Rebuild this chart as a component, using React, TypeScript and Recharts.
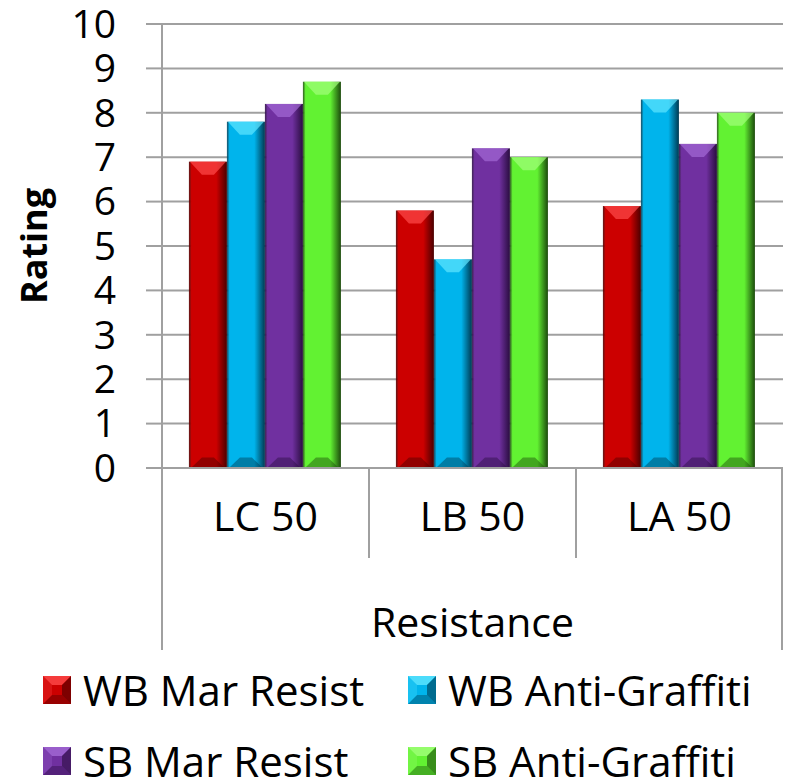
import { Bar, BarChart, CartesianGrid, XAxis, YAxis } from 'recharts';

const categories = ['LC 50', 'LB 50', 'LA 50'];
const wbMarResist = [6.9, 5.8, 5.9];
const wbAntiGraffiti = [7.8, 4.7, 8.3];
const sbMarResist = [8.2, 7.2, 7.3];
const sbAntiGraffiti = [8.7, 7.0, 8.0];
const yTicks = [0, 1, 2, 3, 4, 5, 6, 7, 8, 9, 10];

const series = [
  { key: 'wbMar', name: 'WB Mar Resist', base: '#cc0000', light: '#ff4a4a', dark: '#4a0000' },
  { key: 'wbAnti', name: 'WB Anti-Graffiti', base: '#00b4ec', light: '#5fe6ff', dark: '#003a52' },
  { key: 'sbMar', name: 'SB Mar Resist', base: '#7030a0', light: '#a46ad6', dark: '#2a0d40' },
  { key: 'sbAnti', name: 'SB Anti-Graffiti', base: '#62f232', light: '#a2ff7a', dark: '#1c4a0c' },
];

const data = categories.map((c, i) => ({
  cat: c, wbMar: wbMarResist[i], wbAnti: wbAntiGraffiti[i], sbMar: sbMarResist[i], sbAnti: sbAntiGraffiti[i],
}));

const FONT = '"Open Sans", sans-serif';

const bevelShape = (s: typeof series[number]) => (props: any) => {
  const { x, y, width: w, height: h } = props;
  if (!w || !h || h <= 0) return null;
  const b = Math.min(13, h / 2, w / 2);
  const mid = x + w / 2;
  return (
    <g>
      <rect x={x} y={y} width={w} height={h} fill={`url(#g-${s.key})`} />
      <polygon points={`${x + 1},${y} ${x + w - 1},${y} ${mid + 6},${y + b} ${mid - 6},${y + b}`} fill={s.light} opacity={0.7} />
      <polygon points={`${x + 2},${y + h} ${x + w - 2},${y + h} ${mid + 6},${y + h - b * 0.8} ${mid - 6},${y + h - b * 0.8}`} fill={s.dark} opacity={0.45} />
    </g>
  );
};

const LegendMark = ({ s }: { s: typeof series[number] }) => (
  <svg width={28} height={28} style={{ display: 'block' }}>
    <rect x={0} y={0} width={28} height={28} fill={s.base} />
    <polygon points="0,0 28,0 19,9 9,9" fill={s.light} opacity={0.8} />
    <polygon points="28,0 28,28 19,19 19,9" fill={s.dark} opacity={0.6} />
    <polygon points="0,28 28,28 19,19 9,19" fill={s.dark} opacity={0.4} />
    <polygon points="0,0 0,28 9,19 9,9" fill={s.light} opacity={0.25} />
  </svg>
);

const CatTick = (props: any) => {
  const { x, y, payload } = props;
  const half = Number(payload?.offset) || 103.5;
  const cx = Number(payload?.coordinate ?? x);
  const first = payload.value === categories[0];
  const last = payload.value === categories[categories.length - 1];
  return (
    <g>
      <line x1={cx - half} y1={y} x2={cx - half} y2={y + (first ? 182 : 90)} stroke="#a0a0a0" strokeWidth={2} />
      {last && <line x1={cx + half - 1} y1={y} x2={cx + half - 1} y2={y + 182} stroke="#a0a0a0" strokeWidth={2} />}
      <text x={cx} y={y + 63} textAnchor="middle" fontSize={41} fontFamily={FONT} fill="#000">{payload.value}</text>
      {payload.value === categories[1] && (
        <text x={cx} y={y + 169} textAnchor="middle" fontSize={41} fontFamily={FONT} fill="#000">Resistance</text>
      )}
    </g>
  );
};

export default function App() {
  return (
    <div style={{ position: 'relative', width: 776, height: 772 }}>
      <BarChart width={776} height={772} data={data} margin={{ top: 16, right: 1, left: 0, bottom: 130 }}
        barCategoryGap="13%" barGap={0}>
        <defs>
          {series.map(s => (
            <linearGradient key={s.key} id={`g-${s.key}`} x1="0" y1="0" x2="1" y2="0">
              <stop offset="0" stopColor={s.dark} stopOpacity={0.9} />
              <stop offset="0.07" stopColor={s.base} />
              <stop offset="0.72" stopColor={s.base} />
              <stop offset="1" stopColor={s.dark} />
            </linearGradient>
          ))}
        </defs>
        <CartesianGrid vertical={false} stroke="#a0a0a0" strokeWidth={2} />
        <XAxis dataKey="cat" height={182} axisLine={{ stroke: '#a0a0a0', strokeWidth: 2 }} tickLine={false}
          tickSize={0} tickMargin={0} tick={<CatTick />} interval={0} />
        <YAxis domain={[0, 10]} ticks={yTicks} width={154} interval={0}
          axisLine={{ stroke: '#a0a0a0', strokeWidth: 2 }} tickLine={{ stroke: '#a0a0a0', strokeWidth: 2 }}
          tickSize={16} tickMargin={30} tick={{ fontSize: 39, fontFamily: FONT, fill: '#000' }}
          label={{ value: 'Rating', angle: -90, position: 'insideLeft', offset: 26, style: { fontSize: 36, fontWeight: 'bold', fontFamily: FONT, fill: '#000', textAnchor: 'middle' } }} />
        {series.map(s => (
          <Bar key={s.key} dataKey={s.key} name={s.name} fill={s.base} shape={bevelShape(s)} isAnimationActive={false} />
        ))}
      </BarChart>
      <div style={{ position: 'absolute', left: 35, top: 663, width: 741, fontFamily: FONT, fontSize: 42, color: '#000',
        display: 'grid', gridTemplateColumns: '365px 376px', rowGap: 33, lineHeight: '38px' }}>
        {series.map(s => (
          <div key={s.key} style={{ display: 'flex', alignItems: 'center', gap: 12, whiteSpace: 'nowrap', height: 38 }}>
            <LegendMark s={s} />
            <span>{s.name}</span>
          </div>
        ))}
      </div>
    </div>
  );
}
